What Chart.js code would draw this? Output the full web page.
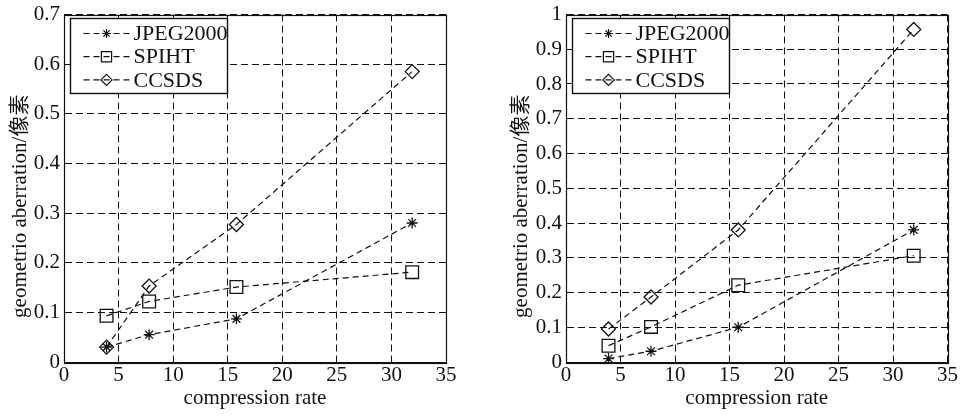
<!DOCTYPE html>
<html>
<head>
<meta charset="utf-8">
<script src="https://cdn.jsdelivr.net/npm/chart.js@4"></script>
<style>
  html, body { margin: 0; padding: 0; background: #fff; }
  .wrap { position: absolute; top: 0; height: 417px; }
</style>
</head>
<body>
<div class="wrap" style="left:0;width:480px"><canvas id="chartA" width="480" height="417"></canvas></div>
<div class="wrap" style="left:480px;width:481px"><canvas id="chartB" width="481" height="417"></canvas></div>
<script>
/* ── data ── */
const rates    = [3.9, 7.8, 15.8, 31.9];
const seriesNames = ['JPEG2000', 'SPIHT', 'CCSDS'];

const jpegA  = [0.030, 0.055, 0.087, 0.280];
const spihtA = [0.093, 0.122, 0.151, 0.181];
const ccsdsA = [0.030, 0.153, 0.277, 0.585];

const jpegB  = [0.010, 0.031, 0.100, 0.380];
const spihtB = [0.047, 0.101, 0.221, 0.306];
const ccsdsB = [0.095, 0.187, 0.380, 0.957];

const xTitle = 'compression rate';
const yTitle = 'geometrio aberration/像素';

const FONT = "'Liberation Serif', 'Times New Roman', 'Noto Sans CJK SC', serif";
const INK  = '#111';

const markers = [
  { pointStyle: 'star',    pointRadius: 5.5 },
  { pointStyle: 'rect',    pointRadius: 9 },
  { pointStyle: 'rectRot', pointRadius: 7 }
];

function toPoints(ys){ return rates.map((x, i) => ({ x, y: ys[i] })); }

/* ── full frame round the plot ── */
const frame = {
  id: 'frame',
  afterDraw(chart){
    const { ctx, chartArea: a } = chart;
    ctx.save();
    ctx.strokeStyle = INK; ctx.lineWidth = 1.2; ctx.setLineDash([]);
    ctx.strokeRect(Math.round(a.left) + 0.5, Math.round(a.top) + 0.5,
                   Math.round(a.right - a.left), Math.round(a.bottom - a.top));
    ctx.restore();
  }
};

/* ── rotated y title, sits a bit below centre like the original ── */
const sideTitle = {
  id: 'sideTitle',
  afterDraw(chart, args, opts){
    const { ctx, chartArea: a } = chart;
    ctx.save();
    ctx.translate(opts.x, (a.top + a.bottom) / 2 + 18);
    ctx.rotate(-Math.PI / 2);
    ctx.font = '21px ' + FONT;
    ctx.fillStyle = INK; ctx.textAlign = 'center'; ctx.textBaseline = 'middle';
    ctx.fillText(yTitle, 0, 0);
    ctx.restore();
  }
};

/* ── MATLAB style boxed legend in the upper left corner ── */
const boxLegend = {
  id: 'boxLegend',
  afterDraw(chart){
    const { ctx, chartArea: a } = chart;
    const x0 = Math.round(a.left) + 6.5, y0 = Math.round(a.top) + 3.5, w = 157, h = 75;
    ctx.save();
    ctx.fillStyle = '#fff'; ctx.fillRect(x0, y0, w, h);
    ctx.strokeStyle = INK; ctx.lineWidth = 1.4; ctx.setLineDash([]);
    ctx.strokeRect(x0, y0, w, h);
    chart.data.datasets.forEach((ds, i) => {
      const y = y0 + 15 + i * 23.2;
      ctx.strokeStyle = ds.borderColor; ctx.lineWidth = ds.borderWidth;
      ctx.setLineDash(ds.borderDash);
      ctx.beginPath(); ctx.moveTo(x0 + 13, y); ctx.lineTo(x0 + 59, y); ctx.stroke();
      ctx.setLineDash([]);
      ctx.fillStyle = 'rgba(0,0,0,0)';
      Chart.helpers.drawPoint(ctx, { pointStyle: ds.pointStyle, radius: ds.pointRadius * 0.8, borderWidth: 1.2, rotation: 0 }, x0 + 36, y);
      ctx.fillStyle = INK;
      ctx.font = '22px ' + FONT; ctx.textBaseline = 'middle'; ctx.textAlign = 'left';
      ctx.fillText(ds.label, x0 + 63, y + 1);
    });
    ctx.restore();
  }
};

function makeChart(id, values, yMax, box){
  const datasets = values.map((ys, i) => ({
    label: seriesNames[i],
    data: toPoints(ys),
    showLine: true,
    borderColor: '#111',
    borderWidth: 1.2,
    borderDash: [6, 4],
    backgroundColor: 'rgba(0,0,0,0)',
    pointBorderColor: '#111',
    pointBorderWidth: 1.3,
    pointStyle: markers[i].pointStyle,
    pointRadius: markers[i].pointRadius,
    tension: 0
  }));
  const gridDash = { display: true, color: INK, width: 1, dash: [7, 4] };
  return new Chart(document.getElementById(id), {
    type: 'scatter',
    data: { datasets },
    plugins: [frame, sideTitle, boxLegend],
    options: {
      responsive: false, animation: false,
      layout: { padding: { top: box.top, right: box.right, left: 0, bottom: 0 } },
      plugins: {
        legend: { display: false }, tooltip: { enabled: false },
        sideTitle: { x: box.titleX }
      },
      scales: {
        x: {
          type: 'linear', min: 0, max: 35,
          ticks: { stepSize: 5, color: INK, padding: 3, font: { family: FONT, size: 21, lineHeight: 1 } },
          grid: { color: INK, lineWidth: 1, drawTicks: false },
          border: gridDash,
          title: { display: true, text: xTitle, color: INK, font: { family: FONT, size: 21 }, padding: { top: 0, bottom: 6 } },
          afterFit: s => { s.height = 55; }
        },
        y: {
          type: 'linear', min: 0, max: yMax,
          ticks: {
            stepSize: 0.1, color: INK, padding: 4,
            font: { family: FONT, size: 21, lineHeight: 1 },
            callback: v => String(Number(v.toFixed(1)))
          },
          grid: { color: INK, lineWidth: 1, drawTicks: false },
          border: gridDash,
          afterFit: s => { s.width = box.left; }
        }
      }
    }
  });
}

makeChart('chartA', [jpegA, spihtA, ccsdsA], 0.7, { left: 64, top: 12, right: 34, titleX: 20 });
makeChart('chartB', [jpegB, spihtB, ccsdsB], 1.0, { left: 86, top: 10, right: 13, titleX: 41 });
</script>
</body>
</html>
